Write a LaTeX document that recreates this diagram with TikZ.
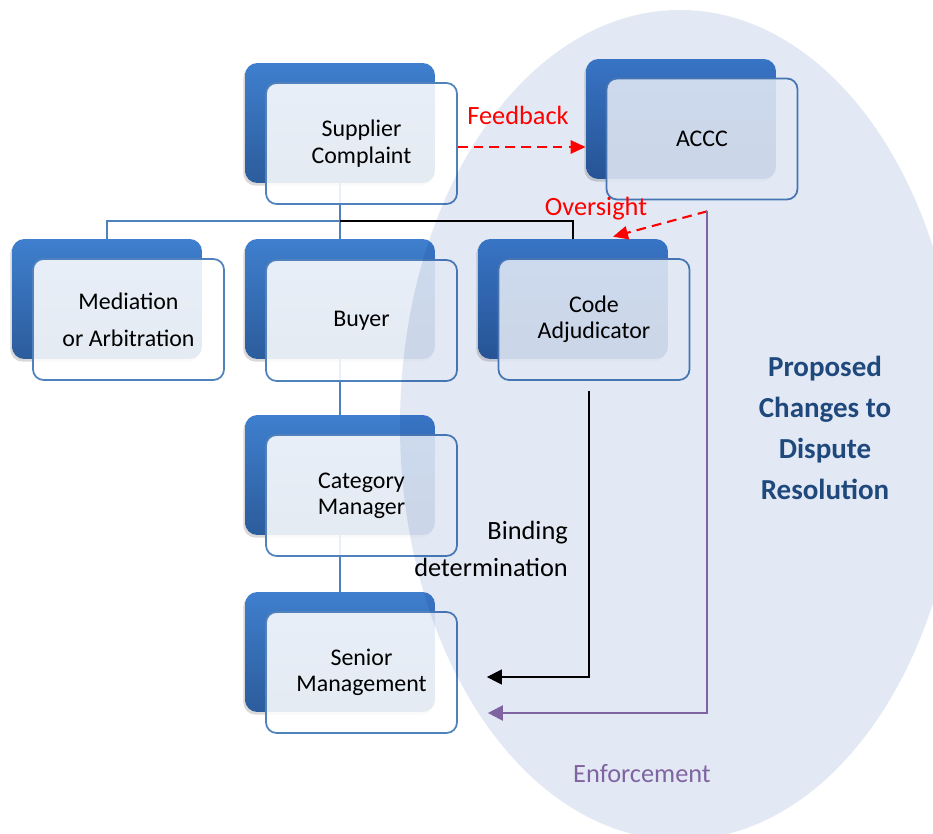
\documentclass[tikz,border=0pt]{standalone}
\usepackage{fontspec}
\setmainfont{Carlito}
\usetikzlibrary{calc,shadows,backgrounds,arrows.meta}

\definecolor{boxtop}{HTML}{3F7FCE}
\definecolor{boxbot}{HTML}{2C5C9C}
\definecolor{boxline}{HTML}{4F81BD}
\definecolor{ellfill}{HTML}{E3E9F4}
\definecolor{enfpurple}{HTML}{8064A2}
\definecolor{titleblue}{HTML}{1F497D}

\tikzset{
	backbox/.style={rectangle, rounded corners=7pt, minimum width=3.8cm, minimum height=2.4cm,
		top color=boxtop, bottom color=boxbot,
		drop shadow={opacity=0.3, shadow xshift=-1pt, shadow yshift=-1.5pt}},
	frontbox/.style={rectangle, rounded corners=6pt, minimum width=3.82cm, minimum height=2.42cm,
		draw=boxline, line width=1pt, fill=white, fill opacity=0.88, text opacity=1,
		align=center, font=\fontsize{13.6}{15}\selectfont},
	treeline/.style={draw=boxline, line width=0.9pt},
	redarrow/.style={red, line width=1.2pt, dash pattern=on 5.5pt off 3.5pt,
		-{Triangle[length=8.5pt,width=7.5pt]}},
	detarrow/.style={black, line width=0.7pt, -{Triangle[length=8.5pt,width=8.5pt]}},
	enfarrow/.style={enfpurple, line width=1.3pt, -{Triangle[length=8.5pt,width=8.5pt]}},
	redlabel/.style={red, font=\fontsize{15}{18}\selectfont},
	sidelabel/.style={font=\fontsize{15}{21}\selectfont, align=right},
	titletext/.style={titleblue, font=\fontsize{16.5}{23.3}\selectfont\bfseries, align=center}
}

\begin{document}
\begin{tikzpicture}[x=0.02cm,y=-0.02cm]
	\useasboundingbox (0,0) rectangle (933,834);
	
	% back boxes
	\node[backbox] (sup-b) at (340,123) {};
	\node[backbox] (acc-b) at (681,119) {};
	\node[backbox] (med-b) at (107,299) {};
	\node[backbox] (buy-b) at (340,299) {};
	\node[backbox] (adj-b) at (573,299) {};
	\node[backbox] (cat-b) at (340,475) {};
	\node[backbox] (sen-b) at (340,652) {};
	
	% front boxes
	\node[frontbox] (sup) at (361.5,143.5) {Supplier\\Complaint};
	\node[frontbox] (acc) at (702,139) {ACCC};
	\node[frontbox, font=\fontsize{13.6}{21}\selectfont] (med) at (128.5,319.5) {Mediation\\or Arbitration};
	\node[frontbox] (buy) at (361.5,320.5) {Buyer};
	\node[frontbox] (adj) at (594,319.5) {Code\\Adjudicator};
	\node[frontbox] (cat) at (361.5,495.5) {Category\\Manager};
	\node[frontbox] (sen) at (361.5,672.5) {Senior\\Management};
	
	% tree behind the boxes
	\coordinate (fork) at (340,221);
	\begin{scope}[on background layer]
		\draw[treeline] (sup-b) -- (buy-b);
		\draw[treeline] (buy-b) -- (cat-b);
		\draw[treeline] (cat-b) -- (sen-b);
		\draw[treeline] (fork) -| (med-b);
		\draw[black, line width=0.9pt] (fork) -| (adj-b);
	\end{scope}
	
	% proposed changes area
	\begin{scope}[blend mode=multiply]
		\clip (0,0) rectangle (933,834);
		\fill[ellfill] (680,425) ellipse [x radius=280, y radius=415];
	\end{scope}
	
	\coordinate (sup-out) at ($(sup.east)+(0,3.5)$);
	\coordinate (acc-foot) at ($(acc.south)+(5,11)$);
	\coordinate (adj-top) at ($(adj-b.north)+(40,-2)$);
	\coordinate (adj-foot) at ($(adj.south)+(-5,10)$);
	\coordinate (sen-det) at ($(sen.east)+(29,4.5)$);
	\coordinate (sen-enf) at ($(sen.east)+(30,40.5)$);
	
	\draw[redarrow] (sup-out) -- (sup-out -| acc-b.west);
	\node[redlabel] (feed) at (518,115) {Feedback};
	\draw[redarrow] (acc-foot) -- (adj-top);
	\node[redlabel] (over) at (596,209) {Oversight};
	
	\draw[detarrow] (adj-foot) |- (sen-det);
	\node[sidelabel, anchor=east] (bind) at (574,549) {Binding\\determination};
	\draw[enfarrow] (acc-foot) |- (sen-enf);
	\node[enfpurple, font=\fontsize{15}{18}\selectfont] (enf) at (642,774) {Enforcement};
	
	\node[titletext] (prop) at (825,428) {Proposed\\Changes to\\Dispute\\Resolution};
	
\end{tikzpicture}
\end{document}
